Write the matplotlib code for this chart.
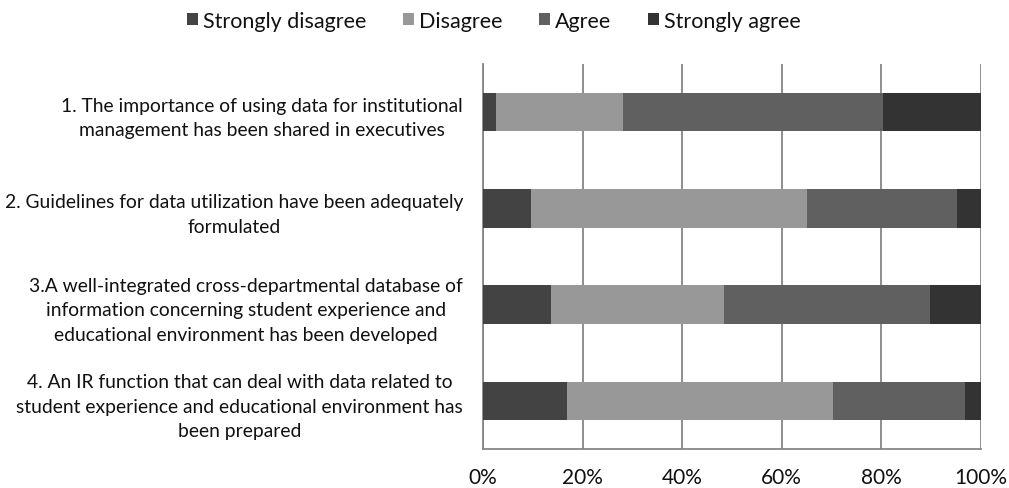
import numpy as np
import matplotlib.pyplot as plt
from matplotlib.ticker import FixedLocator, PercentFormatter

plt.rcParams['font.family'] = ['Lato', 'DejaVu Sans']

# Questions (top to bottom)
questions = [
    "1. The importance of using data for institutional\nmanagement has been shared in executives",
    "2. Guidelines for data utilization have been adequately\nformulated",
    "3.A well-integrated cross-departmental database of\ninformation concerning student experience and\neducational environment has been developed",
    "4. An IR function that can deal with data related to\nstudent experience and educational environment has\nbeen prepared",
]
responses = ["Strongly disagree", "Disagree", "Agree", "Strongly agree"]
colors = ["#434343", "#989898", "#606060", "#333333"]

# Shares in percent
strongly_disagree = [2.6, 9.6, 13.6, 16.9]
disagree          = [25.6, 55.5, 34.8, 53.3]
agree             = [52.1, 30.0, 41.3, 26.5]
strongly_agree    = [19.7, 4.9, 10.3, 3.3]

fig = plt.figure(figsize=(10.09, 4.89), dpi=100)
ax = fig.add_axes([483/1009, 1 - 450/489, 498/1009, 385/489])

y = np.arange(len(questions))
left = np.zeros(len(questions))
for name, vals, c in zip(responses,
                         [strongly_disagree, disagree, agree, strongly_agree],
                         colors):
    ax.barh(y, vals, left=left, height=0.4, color=c, label=name, zorder=3)
    left += np.array(vals)

ax.set_ylim(len(questions) - 0.5, -0.5)
ax.set_xlim(0, 100)
ax.set_yticks(y)
ax.set_yticklabels(questions, fontsize=13.9, multialignment='center',
                   color='#111111', linespacing=1.55)
ax.xaxis.set_major_locator(FixedLocator([0, 20, 40, 60, 80, 100]))
ax.xaxis.set_major_formatter(PercentFormatter(decimals=0))
ax.tick_params(axis='x', length=0, pad=13, labelsize=15, colors='#111111')
ax.tick_params(axis='y', length=0, pad=14.4)

ax.grid(axis='x', color='#868686', linewidth=1.3, zorder=0)
for s in ['top', 'right']:
    ax.spines[s].set_visible(False)
for s in ['left', 'bottom']:
    ax.spines[s].set_color('#868686')
    ax.spines[s].set_linewidth(1.3)

fig.legend(loc='center', bbox_to_anchor=(494/1009, 1 - 22/489), ncol=4,
           frameon=False, fontsize=15.5, handlelength=0.5, handleheight=0.5,
           handletextpad=0.25, columnspacing=1.7, labelcolor='#111111')

fig.savefig('out.png', dpi=100)
